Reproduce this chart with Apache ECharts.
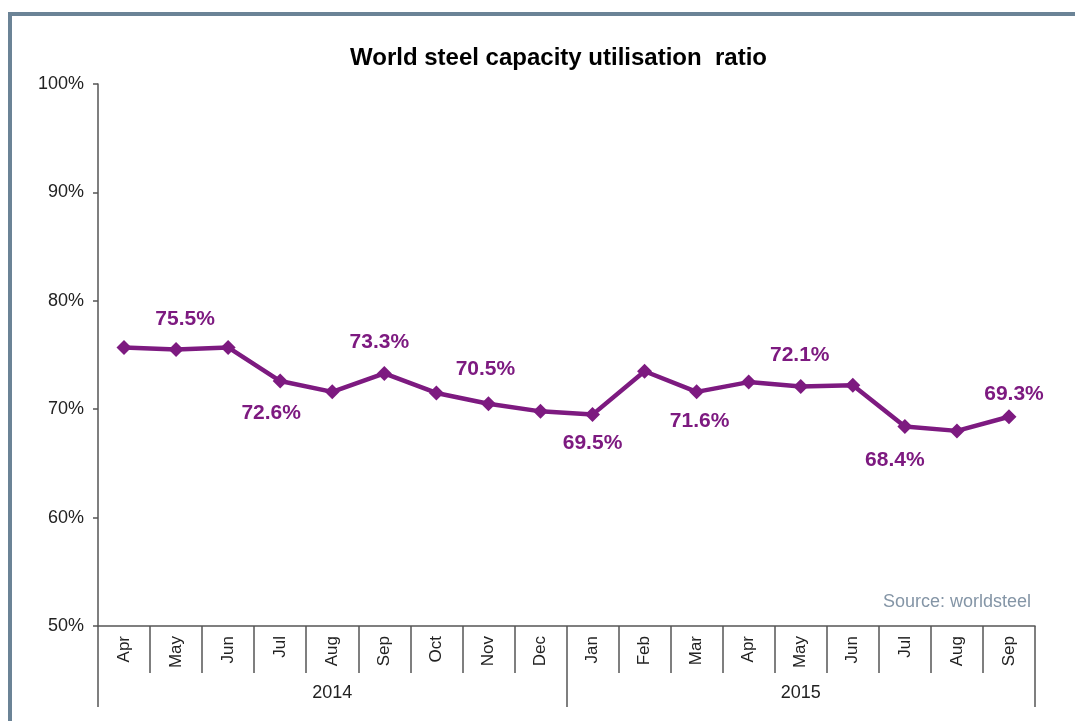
<!DOCTYPE html>
<html>
<head>
<meta charset="utf-8">
<script src="https://cdn.jsdelivr.net/npm/echarts@6/dist/echarts.min.js"></script>
<style>
html,body{margin:0;padding:0;background:#fff;}
#chart{width:1075px;height:721px;}
</style>
</head>
<body>
<div id="chart"></div>
<script>
const months = ['Apr','May','Jun','Jul','Aug','Sep','Oct','Nov','Dec','Jan','Feb','Mar','Apr','May','Jun','Jul','Aug','Sep'];
const years = ['2014','2015'];
const utilisation = [75.7,75.5,75.7,72.6,71.6,73.3,71.5,70.5,69.8,69.5,73.5,71.6,72.5,72.1,72.2,68.4,68.0,69.3];
const labelledPoints = [1,3,5,7,9,11,13,15,17];
const titleText = 'World steel capacity utilisation  ratio';
const sourceText = 'Source: worldsteel';

const purple = '#7D1A80';
const font = '"Liberation Sans", Arial, sans-serif';
// label offsets relative to point centre (styling, not data)
const labelOffsets = {
  1:[9,-30], 3:[-9,32], 5:[-5,-31], 7:[-3,-35], 9:[0,29],
  11:[3,29], 13:[-1,-31], 15:[-10,34], 17:[5,-23]
};

const seriesData = utilisation.map((v,i)=>{
  const item = {value:v};
  if (labelledPoints.includes(i)) {
    item.label = {show:true, position:'inside', offset:labelOffsets[i],
      formatter: p => p.value.toFixed(1)+'%'};
  }
  return item;
});

const chart = echarts.init(document.getElementById('chart'), null, {renderer:'canvas'});
chart.setOption({
  animation:false,
  backgroundColor:'#fff',
  textStyle:{fontFamily:font},
  grid:{left:98, right:40, top:84, bottom:95, containLabel:false},
  graphic:[
    {type:'line', shape:{x1:8,y1:14,x2:1075,y2:14}, style:{stroke:'#6B8396',lineWidth:4}, z:100},
    {type:'line', shape:{x1:10,y1:12,x2:10,y2:721}, style:{stroke:'#6B8396',lineWidth:4}, z:100},
    {type:'text', left:350, top:46, style:{text:titleText, font:'bold 24px '+font, fill:'#000'}},
    {type:'text', right:44, top:593, style:{text:sourceText, font:'18px '+font, fill:'#8495A6'}}
  ],
  xAxis:[
    {type:'category', data:months, boundaryGap:true, position:'bottom',
     axisLine:{show:true, lineStyle:{color:'#555', width:1.5}},
     axisTick:{show:true, interval:0, length:47, lineStyle:{color:'#555', width:1.5}},
     axisLabel:{interval:0, rotate:90, margin:10, fontSize:17, color:'#222', fontFamily:font}},
    {type:'category', data:years, boundaryGap:true, position:'bottom', offset:47,
     axisLine:{show:false},
     axisTick:{show:true, interval:0, length:34, lineStyle:{color:'#555', width:1.5}},
     axisLabel:{interval:0, margin:11, fontSize:18, color:'#222', fontFamily:font}}
  ],
  yAxis:{type:'value', min:50, max:100, interval:10,
    axisLine:{show:true, lineStyle:{color:'#555', width:1.5}},
    axisTick:{show:true, length:5, lineStyle:{color:'#555', width:1.5}},
    splitLine:{show:false},
    axisLabel:{formatter:'{value}%', fontSize:18, color:'#222', margin:14, fontFamily:font}},
  series:[{
    type:'line', xAxisIndex:0, data:seriesData,
    symbol:'diamond', symbolSize:15,
    lineStyle:{color:purple, width:4.5},
    itemStyle:{color:purple},
    label:{show:false, color:purple, fontSize:21, fontWeight:'bold', fontFamily:font}
  }]
});
</script>
</body>
</html>
